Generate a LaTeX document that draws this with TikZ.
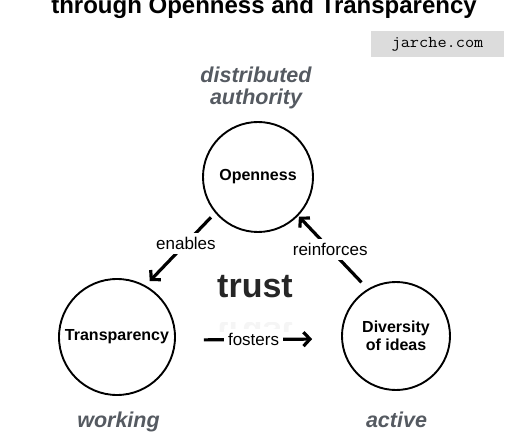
\documentclass[tikz,border=0pt]{standalone}
\usepackage{fontspec}
\setmainfont{Liberation Sans}
\usetikzlibrary{arrows.meta}
\definecolor{subg}{RGB}{85,90,97}
\definecolor{boxg}{RGB}{220,220,220}
\begin{document}
\begin{tikzpicture}[x=1pt,y=-1pt,
  circ/.style={draw, circle, line width=1.9pt, inner sep=0pt, align=center,
    font=\fontsize{16}{18.5}\selectfont\bfseries},
  arr/.style={line width=3.2pt, -{Straight Barb[length=6.5pt,width=14pt]}},
  lab/.style={fill=white, inner sep=4pt, font=\fontsize{17}{20}\selectfont},
  sub/.style={text=subg, align=center, font=\fontsize{21.5}{22}\selectfont\bfseries\itshape}]
\useasboundingbox (0,0) rectangle (520,433);
\clip (0,0) rectangle (520,433);

\node[anchor=base, inner sep=0pt, font=\fontsize{24}{28}\selectfont\bfseries] (title) at (264,13.5) {through Openness and Transparency};

\node[fill=boxg, minimum width=133pt, minimum height=26pt, inner sep=0pt] (site) at (437.5,44)
  {\scalebox{1.08}[1]{\fontsize{16.5}{18}\selectfont\ttfamily jarche.com}};

\node[sub, anchor=base, inner sep=0pt] (sub1) at (256,83) {distributed};
\node[sub, anchor=base, inner sep=0pt] (sub2) at (256,105) {authority};
\node[sub, anchor=base, inner sep=0pt] (sub3) at (118.5,427) {working};
\node[sub, anchor=base, inner sep=0pt] (sub4) at (396.5,427) {active};

\node[circ, minimum size=110pt] (O) at (258,177) {Openness};
\node[circ, minimum size=116pt] (T) at (117,337) {Transparency};
\node[circ, minimum size=108pt] (D) at (396,336) {Diversity\\of ideas};

\node[anchor=base, inner sep=0pt, text=black!85, font=\fontsize{34}{40}\selectfont\bfseries] (trust) at (255,298) {trust};
\begin{scope}
  \clip (200,322) rectangle (320,331);
  \node[anchor=base, inner sep=0pt, text=black!4, transform shape, yscale=-1, font=\fontsize{34}{40}\selectfont\bfseries] (trustrefl) at (255,322) {trust};
\end{scope}

\draw[arr, shorten <=6pt, shorten >=6pt] (O.220) -- node[lab, pos=0.42] (l1) {enables} (T.61);
\draw[arr, shorten <=9pt, shorten >=1pt] (D.121) -- node[lab, pos=0.54] (l2) {reinforces} (O.316);
\draw[arr, shorten <=28pt, shorten >=29pt] (T.-3) -- node[lab, pos=0.47] (l3) {fosters} (D.183);
\end{tikzpicture}
\end{document}
